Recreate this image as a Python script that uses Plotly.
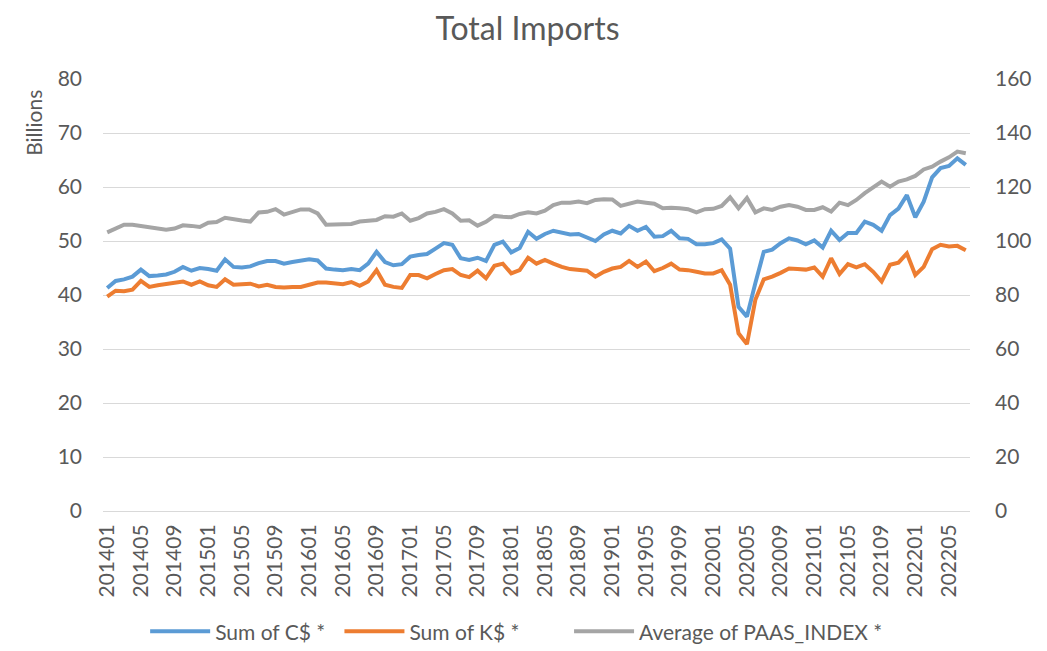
import plotly.graph_objects as go

# --- DATA ---
months = [f"{y}{m:02d}" for y in range(2014, 2023) for m in range(1, 13)][:103]

sum_c = [41.3, 42.6, 42.9, 43.4, 44.7, 43.5, 43.6, 43.8, 44.3, 45.2,
         44.5, 45.0, 44.8, 44.5, 46.6, 45.2, 45.1, 45.3, 45.9, 46.3,
         46.3, 45.8, 46.1, 46.4, 46.6, 46.4, 44.9, 44.7, 44.6, 44.8,
         44.6, 45.8, 48.0, 46.1, 45.5, 45.7, 47.1, 47.4, 47.6, 48.6,
         49.6, 49.3, 46.8, 46.5, 46.9, 46.3, 49.3, 49.9, 47.9, 48.7,
         51.7, 50.4, 51.3, 51.9, 51.6, 51.2, 51.3, 50.6, 50.0, 51.2,
         51.9, 51.4, 52.8, 51.9, 52.6, 50.8, 50.9, 51.9, 50.5, 50.4,
         49.4, 49.4, 49.6, 50.3, 48.6, 37.8, 36.0, 42.2, 48.0, 48.4,
         49.6, 50.5, 50.1, 49.4, 50.1, 48.8, 51.9, 50.2, 51.5, 51.5,
         53.6, 53.0, 51.9, 54.8, 56.0, 58.5, 54.4, 57.3, 61.8, 63.5,
         63.9, 65.3, 64.1]

sum_k = [39.7, 40.8, 40.7, 41.0, 42.6, 41.5, 41.8, 42.0, 42.2, 42.5,
         41.9, 42.5, 41.8, 41.5, 42.9, 41.9, 42.0, 42.1, 41.6, 41.9,
         41.5, 41.4, 41.5, 41.5, 41.9, 42.3, 42.3, 42.2, 42.0, 42.4,
         41.7, 42.5, 44.6, 41.9, 41.5, 41.3, 43.7, 43.7, 43.1, 43.9,
         44.6, 44.8, 43.7, 43.3, 44.5, 43.1, 45.4, 45.8, 44.0, 44.6,
         46.9, 45.8, 46.5, 45.8, 45.2, 44.8, 44.6, 44.5, 43.4, 44.3,
         44.9, 45.2, 46.3, 45.2, 46.2, 44.4, 45.0, 45.8, 44.7, 44.6,
         44.3, 44.0, 44.0, 44.6, 41.9, 32.9, 30.9, 39.1, 42.9, 43.4,
         44.1, 44.9, 44.8, 44.7, 45.1, 43.4, 46.8, 43.9, 45.7, 45.1,
         45.7, 44.3, 42.5, 45.6, 46.0, 47.7, 43.7, 45.2, 48.5, 49.3,
         49.0, 49.1, 48.3]

paas_index = [103.2, 104.6, 106.0, 106.0, 105.5, 105.0, 104.4, 104.2, 104.6, 105.8,
              105.6, 105.2, 106.8, 107.0, 108.6, 108.0, 107.6, 107.2, 110.6, 110.8,
              111.8, 109.8, 110.6, 111.7, 111.7, 110.2, 106.0, 106.0, 106.1, 106.3,
              107.2, 107.6, 107.8, 109.2, 109.0, 110.2, 107.5, 108.5, 110.2, 110.8,
              111.8, 110.2, 107.5, 107.7, 105.7, 107.1, 109.3, 109.0, 108.8, 110.0,
              110.6, 110.2, 111.2, 113.3, 114.2, 114.2, 114.6, 114.0, 115.2, 115.5,
              115.4, 113.0, 113.8, 114.6, 114.2, 113.8, 112.1, 112.3, 112.1, 111.8,
              110.6, 111.8, 111.9, 113.0, 116.2, 112.1, 115.9, 110.6, 112.1, 111.5,
              112.7, 113.3, 112.7, 111.5, 111.5, 112.5, 110.9, 114.2, 113.3, 115.2,
              117.7, 119.9, 122.0, 120.1, 122.0, 122.8, 124.1, 126.5, 127.5, 129.4,
              131.0, 133.1, 132.5]

tick_labels = months[::4]

# --- STYLE ---
FONT = "Lato, Open Sans, sans-serif"
TEXT = "#595959"
GRID = "#D9D9D9"

fig = go.Figure()
fig.add_trace(go.Scatter(x=months, y=sum_c, name="Sum of C$ *", mode="lines",
                         line=dict(color="#5B9BD5", width=4), legend="legend"))
fig.add_trace(go.Scatter(x=months, y=sum_k, name="Sum of K$ *", mode="lines",
                         line=dict(color="#ED7D31", width=4), legend="legend2"))
fig.add_trace(go.Scatter(x=months, y=paas_index, name="Average of PAAS_INDEX *",
                         mode="lines", yaxis="y2",
                         line=dict(color="#A5A5A5", width=4), legend="legend3"))

# one legend per series so each entry sits where the Excel legend puts it
def legend_at(x):
    return dict(orientation="h", xref="container", yref="container",
                x=x, xanchor="left", y=0.03, yanchor="middle",
                font=dict(size=21, color=TEXT), itemwidth=60,
                bgcolor="rgba(0,0,0,0)")

# page has an 8px body margin, so the figure is a bit smaller than the window
fig.update_layout(
    width=1039, height=643,
    showlegend=True,
    paper_bgcolor="white", plot_bgcolor="white",
    font=dict(family=FONT, size=21, color=TEXT),
    title=dict(text="Total Imports", x=0.5, xanchor="center",
               y=0.968, yanchor="middle", font=dict(size=32, color=TEXT)),
    margin=dict(l=95, r=77, t=71, b=140),
    xaxis=dict(type="category", tickmode="array", tickvals=tick_labels,
               ticktext=tick_labels, tickangle=-90, showgrid=False,
               showline=True, linecolor=GRID, linewidth=1, ticks="",
               ticklabelstandoff=4, automargin=False,
               range=[-0.5, len(months) - 0.5]),
    yaxis=dict(range=[0, 80], dtick=10, showgrid=True, gridcolor=GRID,
               gridwidth=1, zeroline=False, ticks="", ticklabelstandoff=20,
               automargin=False),
    yaxis2=dict(range=[0, 160], dtick=20, overlaying="y", side="right",
                showgrid=False, zeroline=False, ticks="", ticklabelstandoff=24,
                automargin=False),
    legend=legend_at(0.132),
    legend2=legend_at(0.319),
    legend3=legend_at(0.540),
    annotations=[dict(text="Billions", textangle=-90, xref="paper", yref="paper",
                      x=-0.081, y=0.979, xanchor="center", yanchor="top",
                      showarrow=False, font=dict(size=21, color=TEXT))],
)

fig.write_html("out.html")
